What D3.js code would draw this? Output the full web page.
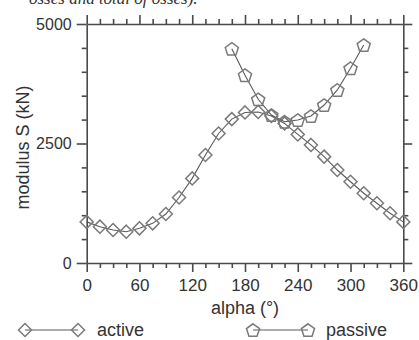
<!DOCTYPE html>
<html>
<head>
<meta charset="utf-8">
<script src="https://cdn.jsdelivr.net/npm/d3@7"></script>
<style>
  html, body { margin: 0; padding: 0; background: #fff; }
  svg { display: block; font-family: "Liberation Sans", Arial, sans-serif; }
</style>
</head>
<body>
<div id="container"></div>
<script>
// data
const activeAlpha = [0, 15, 30, 45, 60, 75, 90, 105, 120, 135, 150, 165, 180,
  195, 210, 225, 240, 255, 270, 285, 300, 315, 330, 345, 360];
const activeS = [860, 760, 690, 655, 725, 830, 1025, 1370, 1770, 2260, 2710, 3010, 3150,
  3160, 3075, 2920, 2690, 2470, 2225, 1945, 1700, 1460, 1250, 1040, 860];
const passiveAlpha = [165, 180, 195, 210, 225, 240, 255, 270, 285, 300, 315];
const passiveS = [4480, 3930, 3425, 3095, 2955, 2990, 3075, 3305, 3620, 4075, 4560];
const xTicks = d3.range(0, 361, 15);
const xLabels = [0, 60, 120, 180, 240, 300, 360];
const yTicks = d3.range(0, 5001, 500);
const yLabels = [0, 2500, 5000];

const width = 419, height = 340;
const plotLeft = 86.7, plotRight = 403.3, plotTop = 24, plotBottom = 263;
const axisColor = '#4a4a4a';
const markColor = '#7a7a7a';

const svg = d3.select('#container').append('svg')
  .attr('width', width)
  .attr('height', height);

// caption fragment cut off at the top
svg.append('text')
  .attr('x', 29).attr('y', 4)
  .attr('font-family', '"Liberation Serif", serif')
  .attr('font-style', 'italic')
  .attr('font-size', 17)
  .attr('fill', '#333')
  .text('osses and total of osses).');

const x = d3.scaleLinear().domain([0, 360]).range([plotLeft, plotRight]);
const y = d3.scaleLinear().domain([0, 5000]).range([plotBottom, plotTop]);

const isMajorX = v => v % 60 === 0;
const isMajorY = v => v % 2500 === 0;

// ticks point outward, majors longer
function styleAxis(g, isMajor, major, minor, attr, sign) {
  g.select('.domain').attr('stroke', axisColor).attr('stroke-width', 1.6);
  g.selectAll('.tick line')
    .attr('stroke', axisColor)
    .attr('stroke-width', 1.6)
    .attr(attr, d => (isMajor(d) ? major : minor) * sign);
  g.selectAll('.tick text')
    .attr('fill', '#333')
    .attr('font-size', 16);
}

// bottom axis
const gBottom = svg.append('g')
  .attr('transform', `translate(0,${plotBottom})`)
  .call(d3.axisBottom(x).tickValues(xTicks).tickSizeOuter(0).tickPadding(8)
    .tickFormat(d => xLabels.includes(d) ? d : ''));
styleAxis(gBottom, isMajorX, 9, 5, 'y2', 1);
gBottom.selectAll('.tick text').attr('y', 16).attr('dy', '0.71em').attr('font-size', 17);

// top axis
const gTop = svg.append('g')
  .attr('transform', `translate(0,${plotTop})`)
  .call(d3.axisTop(x).tickValues(xTicks).tickSizeOuter(0).tickFormat(''));
styleAxis(gTop, isMajorX, 9, 5, 'y2', -1);

// left axis
const gLeft = svg.append('g')
  .attr('transform', `translate(${plotLeft},0)`)
  .call(d3.axisLeft(y).tickValues(yTicks).tickSizeOuter(0)
    .tickFormat(d => yLabels.includes(d) ? d : ''));
styleAxis(gLeft, isMajorY, 10, 5, 'x2', -1);
gLeft.selectAll('.tick text').attr('x', -15);

// right axis
const gRight = svg.append('g')
  .attr('transform', `translate(${plotRight},0)`)
  .call(d3.axisRight(y).tickValues(yTicks).tickSizeOuter(0).tickFormat(''));
styleAxis(gRight, isMajorY, 9, 5, 'x2', 1);

// axis titles
svg.append('text')
  .attr('x', (plotLeft + plotRight) / 2).attr('y', 314)
  .attr('text-anchor', 'middle')
  .attr('font-size', 18)
  .attr('fill', '#333')
  .text('alpha (°)');

svg.append('text')
  .attr('transform', `translate(29,${(plotTop + plotBottom) / 2 + 4}) rotate(-90)`)
  .attr('text-anchor', 'middle')
  .attr('font-size', 18)
  .attr('fill', '#333')
  .text('modulus S (kN)');

// marker shapes
const diamond = {
  draw(ctx, size) {
    const r = Math.sqrt(size) / 2;
    ctx.moveTo(0, -r); ctx.lineTo(r, 0); ctx.lineTo(0, r); ctx.lineTo(-r, 0); ctx.closePath();
  }
};
const pentagon = {
  draw(ctx, size) {
    const r = Math.sqrt(size) / 2;
    for (let i = 0; i < 5; i++) {
      const a = -Math.PI / 2 + i * 2 * Math.PI / 5;
      const px = r * Math.cos(a), py = r * Math.sin(a) + r * 0.1;
      if (i === 0) ctx.moveTo(px, py); else ctx.lineTo(px, py);
    }
    ctx.closePath();
  }
};

const line = d3.line().x(d => x(d[0])).y(d => y(d[1]));

function drawSeries(alpha, vals, shape, size) {
  const pts = alpha.map((a, i) => [a, vals[i]]);
  svg.append('path')
    .datum(pts)
    .attr('d', line)
    .attr('fill', 'none')
    .attr('stroke', '#5a5a5a')
    .attr('stroke-width', 1.1);
  svg.append('g')
    .selectAll('path')
    .data(pts)
    .join('path')
    .attr('transform', d => `translate(${x(d[0])},${y(d[1])})`)
    .attr('d', d3.symbol(shape, size))
    .attr('fill', 'none')
    .attr('stroke', markColor)
    .attr('stroke-width', 1.5);
}

drawSeries(activeAlpha, activeS, diamond, 170);
drawSeries(passiveAlpha, passiveS, pentagon, 190);

// legend
function legendItem(x1, x2, tx, shape, size, label) {
  const ly = 330;
  svg.append('line')
    .attr('x1', x1).attr('x2', x2).attr('y1', ly).attr('y2', ly)
    .attr('stroke', '#5a5a5a').attr('stroke-width', 1.1);
  [x1, x2].forEach(px => {
    svg.append('path')
      .attr('transform', `translate(${px},${ly})`)
      .attr('d', d3.symbol(shape, size))
      .attr('fill', 'none')
      .attr('stroke', markColor)
      .attr('stroke-width', 1.5);
  });
  svg.append('text')
    .attr('x', tx).attr('y', ly + 6)
    .attr('font-size', 18)
    .attr('fill', '#333')
    .text(label);
}
legendItem(25, 78, 97, diamond, 170, 'active');
legendItem(253, 308, 326, pentagon, 190, 'passive');
</script>
</body>
</html>
